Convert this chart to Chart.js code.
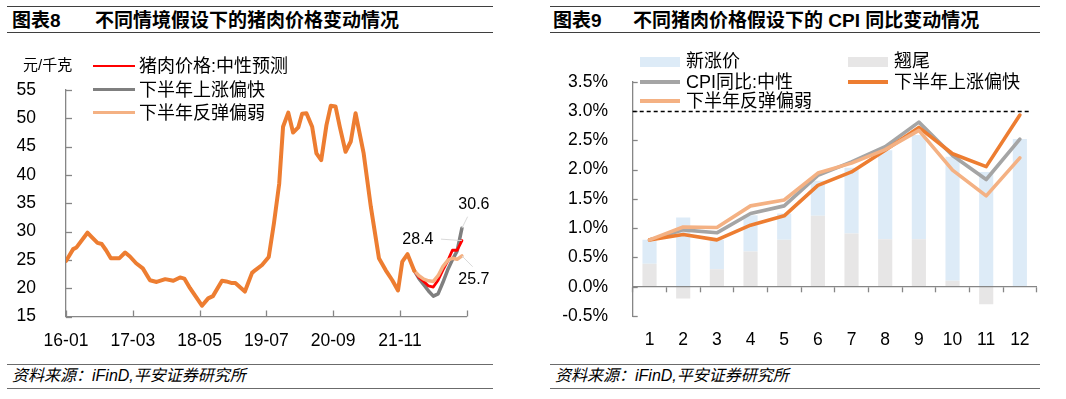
<!DOCTYPE html>
<html>
<head>
<meta charset="utf-8">
<script src="https://cdn.jsdelivr.net/npm/chart.js@4.4.1/dist/chart.umd.min.js"></script>
<style>
  body { margin: 0; width: 1066px; height: 399px; position: relative; overflow: hidden; background: #fff;
         font-family: "Liberation Sans", "Noto Sans CJK SC", sans-serif; color: #000; }
  .rule { position: absolute; height: 0; border-top: 1.3px solid #3f3f3f; }
  .t { position: absolute; white-space: nowrap; line-height: 26px; }
  .title { font-size: 19px; font-weight: bold; top: 8px; }
  .foot { font-size: 16px; font-style: italic; top: 363px; }
  .lg { position: absolute; white-space: nowrap; font-size: 18px; line-height: 22px; }
  .sw { position: absolute; width: 42px; }
  canvas { position: absolute; }
</style>
</head>
<body>
<!-- titles -->
<div class="rule" style="left:7px;width:486px;top:6px"></div>
<div class="rule" style="left:7px;width:486px;top:32px"></div>
<div class="t title" style="left:12px">图表8</div>
<div class="t title" style="left:95px">不同情境假设下的猪肉价格变动情况</div>

<div class="rule" style="left:550px;width:490px;top:6px"></div>
<div class="rule" style="left:550px;width:490px;top:32px"></div>
<div class="t title" style="left:553px">图表9</div>
<div class="t title" style="left:633px">不同猪肉价格假设下的 CPI 同比变动情况</div>

<!-- footers -->
<div class="rule" style="left:7px;width:486px;top:364px;border-color:#6b6b6b"></div>
<div class="rule" style="left:7px;width:486px;top:388px;border-color:#6b6b6b"></div>
<div class="t foot" style="left:12px">资料来源：iFinD,平安证券研究所</div>
<div class="rule" style="left:550px;width:490px;top:364px;border-color:#6b6b6b"></div>
<div class="rule" style="left:550px;width:490px;top:388px;border-color:#6b6b6b"></div>
<div class="t foot" style="left:555px">资料来源：iFinD,平安证券研究所</div>

<canvas id="pork" width="500" height="320" style="left:0;top:40px"></canvas>
<canvas id="cpi" width="526" height="320" style="left:540px;top:40px"></canvas>

<!-- left legend -->
<div class="t" style="left:23px;top:52px;font-size:15px">元/千克</div>
<div class="sw" style="left:93px;top:65px;border-top:2.5px solid #ff0000"></div>
<div class="lg" style="left:139px;top:55px">猪肉价格:中性预测</div>
<div class="sw" style="left:93px;top:88px;border-top:3.5px solid #7f7f7f"></div>
<div class="lg" style="left:139px;top:79px">下半年上涨偏快</div>
<div class="sw" style="left:93px;top:111px;border-top:3.5px solid #f4b183"></div>
<div class="lg" style="left:139px;top:102px">下半年反弹偏弱</div>

<!-- right legend -->
<div class="sw" style="left:640px;top:57px;height:10px;width:40px;background:#ddebf7"></div>
<div class="lg" style="left:686px;top:50px">新涨价</div>
<div class="sw" style="left:640px;top:80px;width:40px;border-top:4px solid #a5a5a5"></div>
<div class="lg" style="left:686px;top:71px">CPI同比:中性</div>
<div class="sw" style="left:640px;top:99px;width:40px;border-top:4px solid #f4b183"></div>
<div class="lg" style="left:686px;top:90px">下半年反弹偏弱</div>
<div class="sw" style="left:848px;top:57px;height:10px;width:40px;background:#e7e6e6"></div>
<div class="lg" style="left:894px;top:50px">翘尾</div>
<div class="sw" style="left:848px;top:80px;width:40px;border-top:4px solid #ed7d31"></div>
<div class="lg" style="left:894px;top:71px">下半年上涨偏快</div>

<script>
// ---- 图表8: pork price, months counted from 2016-01 ----
const xTickLabels = ['16-01', '17-03', '18-05', '19-07', '20-09', '21-11', ''];
const histT = [0, 1.5, 2.2, 4.5, 5.3, 6.6, 7.5, 8.4, 9.4, 11.2, 12.4, 13.4, 14.7, 16.1, 17.6, 19.0,
  20.8, 22.5, 23.9, 24.8, 26.0, 28.5, 29.8, 30.8, 32.7, 33.6, 34.8, 35.5, 37.5, 39.0, 39.7, 41.1,
  42.5, 43.6, 44.7, 45.5, 46.6, 47.6, 48.7, 49.5, 50.4, 51.6, 52.5, 53.5, 54.6, 55.5, 56.5, 57.4,
  58.6, 59.7, 60.7, 62.4, 63.9, 65.6, 67.0, 68.4, 69.6, 70.5, 71.6, 73.0];
const histPrice = [24.8, 26.9, 27.2, 29.8, 29.1, 28.0, 27.8, 26.7, 25.3, 25.3, 26.3, 25.6, 24.4, 23.5, 21.4, 21.1,
  21.6, 21.3, 21.9, 21.7, 20.0, 16.9, 18.2, 18.6, 21.3, 21.2, 20.9, 20.9, 19.4, 22.7, 23.2, 24.1,
  25.5, 31.5, 38.5, 48.5, 51.0, 47.5, 48.4, 50.8, 50.9, 48.5, 43.8, 42.6, 48.8, 52.2, 52.1, 48.5,
  44.1, 45.9, 50.9, 43.8, 34.4, 25.3, 23.2, 21.4, 19.6, 24.7, 26.0, 23.1];
const fcT = [73, 74, 75, 76, 77, 78, 79, 80, 81, 82, 83];
const fcNeutral = [23.1, 21.9, 21.2, 20.4, 20.2, 21.4, 23.2, 24.8, 26.7, 26.7, 28.4];
const fcFast = [23.1, 21.7, 20.6, 19.5, 18.6, 19.0, 21.0, 23.2, 25.0, 26.6, 30.6];
const fcWeak = [23.1, 22.2, 21.6, 21.3, 21.2, 22.2, 23.8, 24.9, 25.3, 25.1, 25.7];

// ---- 图表9: CPI yoy, % ----
const months = ['1', '2', '3', '4', '5', '6', '7', '8', '9', '10', '11', '12'];
const carryOver = [0.39, -0.20, 0.30, 0.60, 0.80, 1.21, 0.91, 0.81, 0.81, 0.10, -0.30, 0.00];
const newPrice = [0.41, 1.18, 0.50, 0.62, 0.45, 0.60, 1.12, 1.52, 1.78, 2.12, 1.96, 2.52];
const cpiNeutral = [0.80, 0.97, 0.92, 1.25, 1.38, 1.90, 2.13, 2.39, 2.81, 2.24, 1.83, 2.52];
const cpiFast = [0.80, 0.89, 0.80, 1.05, 1.21, 1.73, 1.96, 2.33, 2.72, 2.27, 2.05, 2.93];
const cpiWeak = [0.80, 1.02, 1.01, 1.38, 1.48, 1.94, 2.11, 2.34, 2.67, 1.99, 1.55, 2.20];
const cpiCap = 3.0;

Chart.defaults.font.family = '"Liberation Sans", "Noto Sans CJK SC", sans-serif';
Chart.defaults.color = '#000';

const AXIS = '#868686';
const pts = (xs, ys) => ys.map((y, i) => ({ x: xs[i], y }));

// excel style tick marks pointing into the plot
const innerTicks = {
  id: 'innerTicks',
  beforeDatasetsDraw(chart, args, opts) {
    const { ctx, chartArea: a } = chart;
    ctx.save();
    ctx.strokeStyle = AXIS;
    ctx.lineWidth = 1.3;
    (opts.axes || []).forEach(id => {
      const s = chart.scales[id];
      s.ticks.forEach((t, i) => {
        const p = Math.round(s.getPixelForTick(i)) + 0.5;
        ctx.beginPath();
        if (s.isHorizontal()) { ctx.moveTo(p, a.bottom); ctx.lineTo(p, a.bottom - opts.length); }
        else { ctx.moveTo(a.left, p); ctx.lineTo(a.left + opts.length, p); }
        ctx.stroke();
      });
    });
    ctx.restore();
  }
};

const endLabels = {
  id: 'endLabels',
  afterDatasetsDraw(chart, args, opts) {
    const ctx = chart.ctx;
    (opts.items || []).forEach(it => {
      const meta = chart.getDatasetMeta(it.ds);
      const pt = meta.data[meta.data.length - 1];
      const d = chart.data.datasets[it.ds].data;
      ctx.save();
      ctx.strokeStyle = '#d9d9d9';
      ctx.lineWidth = 1;
      ctx.beginPath();
      ctx.moveTo(pt.x + it.lx, pt.y + it.ly);
      ctx.lineTo(pt.x, pt.y);
      ctx.stroke();
      ctx.fillStyle = '#000';
      ctx.font = '16px "Liberation Sans", sans-serif';
      ctx.textAlign = 'center';
      ctx.textBaseline = 'middle';
      ctx.fillText(d[d.length - 1].y.toFixed(1), pt.x + it.dx, pt.y + it.dy);
      ctx.restore();
    });
  }
};

const capLine = {
  id: 'capLine',
  afterDatasetsDraw(chart, args, opts) {
    const { ctx, chartArea: a } = chart;
    const y = Math.round(chart.scales.y.getPixelForValue(opts.value)) + 0.5;
    ctx.save();
    ctx.strokeStyle = '#000';
    ctx.lineWidth = 1.3;
    ctx.setLineDash([4, 3]);
    ctx.beginPath();
    ctx.moveTo(a.left, y);
    ctx.lineTo(a.right - 6, y);
    ctx.stroke();
    ctx.restore();
  }
};

const lineDs = (label, data, color, width) => ({
  type: 'line', label, data, borderColor: color, borderWidth: width, pointRadius: 0,
  tension: 0, fill: false, borderJoinStyle: 'round', borderCapStyle: 'round'
});

new Chart(document.getElementById('pork'), {
  type: 'line',
  data: {
    datasets: [
      lineDs('猪肉价格', pts(histT, histPrice), '#ed7d31', 4),
      lineDs('下半年反弹偏弱', pts(fcT, fcWeak), '#f4b183', 3.5),
      lineDs('猪肉价格:中性预测', pts(fcT, fcNeutral), '#ff0000', 2.8),
      lineDs('下半年上涨偏快', pts(fcT, fcFast), '#7f7f7f', 3.5)
    ]
  },
  options: {
    responsive: false, animation: false, devicePixelRatio: 1,
    layout: { padding: { top: 50, right: 33.3, bottom: 0, left: 0 } },
    plugins: {
      legend: { display: false }, tooltip: { enabled: false },
      innerTicks: { axes: ['x', 'y'], length: 6 },
      endLabels: {
        items: [
          { ds: 2, dx: -44, dy: -1.5, lx: -21, ly: -1.5 },
          { ds: 3, dx: 12, dy: -24, lx: 5.7, ly: -11.5 },
          { ds: 1, dx: 12, dy: 24, lx: 10.7, ly: 10.8 }
        ]
      }
    },
    scales: {
      x: {
        type: 'linear', min: 0, max: 84,
        afterFit: s => { s.height = 43.5; },
        grid: { display: false },
        border: { color: AXIS, width: 1.3 },
        ticks: { stepSize: 14, padding: 6, font: { size: 17.5 }, maxRotation: 0,
                 callback: (v, i) => xTickLabels[i] }
      },
      y: {
        min: 15, max: 55,
        afterFit: s => { s.width = 66; },
        grid: { display: false },
        border: { color: AXIS, width: 1.3 },
        ticks: { stepSize: 5, padding: 22, font: { size: 17.5 } }
      }
    }
  },
  plugins: [innerTicks, endLabels]
});

new Chart(document.getElementById('cpi'), {
  type: 'bar',
  data: {
    labels: months,
    datasets: [
      Object.assign(lineDs('下半年反弹偏弱', cpiWeak, '#f4b183', 3.6), { stack: 'l1' }),
      Object.assign(lineDs('下半年上涨偏快', cpiFast, '#ed7d31', 3.6), { stack: 'l2' }),
      Object.assign(lineDs('CPI同比:中性', cpiNeutral, '#a5a5a5', 3.6), { stack: 'l3' }),
      { label: '翘尾', data: carryOver, backgroundColor: '#e7e6e6', stack: 'b',
        barPercentage: 0.42, categoryPercentage: 1 },
      { label: '新涨价', data: newPrice, backgroundColor: '#ddebf7', stack: 'b',
        barPercentage: 0.42, categoryPercentage: 1 }
    ]
  },
  options: {
    responsive: false, animation: false, devicePixelRatio: 1,
    layout: { padding: { top: 41.7, right: 29.3, bottom: 0, left: 0 } },
    plugins: {
      legend: { display: false }, tooltip: { enabled: false },
      innerTicks: { axes: ['y'], length: 5 },
      capLine: { value: cpiCap }
    },
    scales: {
      x: {
        afterFit: s => { s.height = 44; },
        grid: { display: false },
        border: { display: false },
        ticks: { padding: 6, font: { size: 17.5 } }
      },
      x2: {
        type: 'category', position: { y: 0 },
        grid: { drawOnChartArea: false, drawTicks: true, tickLength: 5, tickColor: AXIS, tickWidth: 1.3, offset: true },
        border: { color: AXIS, width: 1.3, z: 1 },
        ticks: { display: false }
      },
      y: {
        stacked: true, min: -0.5, max: 3.5,
        afterFit: s => { s.width = 92.7; },
        grid: { display: false },
        border: { color: AXIS, width: 1.3 },
        ticks: { stepSize: 0.5, padding: 16.7, font: { size: 17.5 },
                 callback: v => v.toFixed(1) + '%' }
      }
    }
  },
  plugins: [innerTicks, capLine]
});
</script>
</body>
</html>
